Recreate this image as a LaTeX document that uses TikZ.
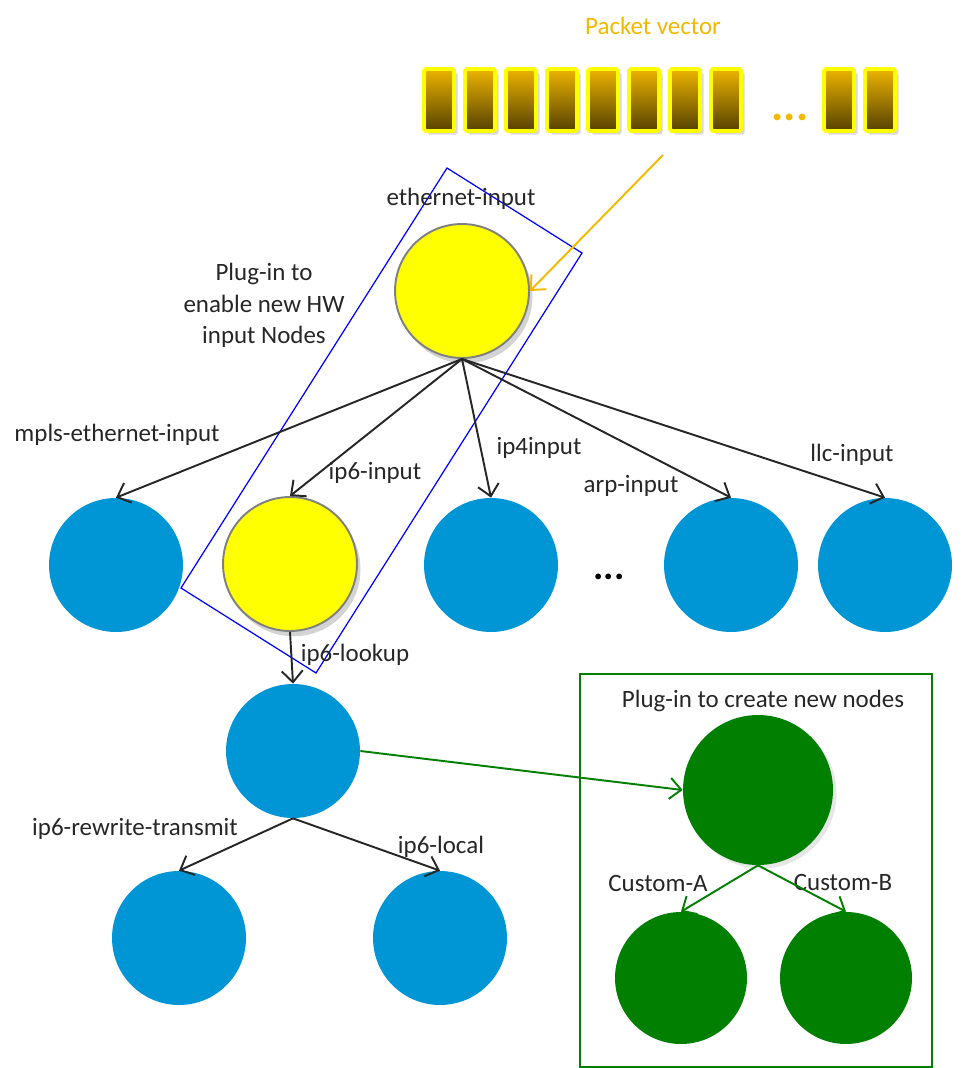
\documentclass[tikz,border=0pt]{standalone}
\usepackage{fontspec}
\setmainfont{Carlito}
\usetikzlibrary{arrows.meta,shadows,positioning}

\definecolor{vppblue}{HTML}{0096D6}
\definecolor{vppgreen}{HTML}{007F00}
\definecolor{vppyellow}{HTML}{FFFF00}
\definecolor{vppgold}{HTML}{F5B800}
\definecolor{vpptext}{HTML}{262626}
\definecolor{pkttop}{HTML}{EDB400}
\definecolor{pktbot}{HTML}{554000}

\tikzset{
  gnode/.style={circle,inner sep=0pt,minimum size=2.68cm},
  bluenode/.style={gnode,fill=vppblue},
  yellownode/.style={gnode,fill=vppyellow,draw=gray,line width=1.1pt,
    drop shadow={shadow xshift=2pt,shadow yshift=-3pt,opacity=0.35}},
  greennode/.style={gnode,fill=vppgreen},
  pkt/.style={rectangle,inner sep=0pt,minimum width=0.6cm,minimum height=1.24cm,
    top color=pkttop,bottom color=pktbot,draw=vppyellow,line width=2.2pt,
    rounded corners=1pt,drop shadow={shadow xshift=2pt,shadow yshift=-2pt,opacity=0.3}},
  lbl/.style={text=vpptext,font=\fontsize{14.2}{18}\selectfont,inner sep=0pt,yshift=-2pt},
  edge/.style={-{Straight Barb[length=6.5pt,width=12pt]},line width=1.1pt,draw=vpptext},
  gedge/.style={edge,draw=vppgreen},
  oedge/.style={edge,draw=vppgold},
}

\begin{document}
\begin{tikzpicture}[x=0.02cm,y=-0.02cm]
    \useasboundingbox (0,0) rectangle (966,1068);
    % packet vector
    \node[lbl,text=vppgold] (pvtitle) at (653,22) {Packet vector};
    \foreach \i in {0,...,7}
        \node[pkt] (pkt\i) at ({439+41*\i},100) {};
    \node[pkt] (pkt8) at (839,100) {};
    \node[pkt] (pkt9) at (880,100) {};
    \node[text=vppgold,font=\fontsize{26}{26}\selectfont\bfseries] (pvdots) at (790,117) {...};
    % nodes
    \node[yellownode] (eth) at (462,291) {};
    \node[bluenode] (mpls) at (116,565) {};
    \node[yellownode] (ip6in) at (290,564) {};
    \node[bluenode] (ip4) at (491,565) {};
    \node[bluenode] (arp) at (731,565) {};
    \node[bluenode] (llc) at (885,565) {};
    \node[font=\fontsize{22}{22}\selectfont\bfseries] (rowdots) at (609,577) {...};
    \node[bluenode] (lookup) at (293,751) {};
    \node[bluenode] (rewrite) at (179,938) {};
    \node[bluenode] (local) at (440,938) {};
    \node[greennode,minimum size=3cm,drop shadow={shadow xshift=2pt,shadow yshift=-2pt,opacity=0.2}] (custom) at (758,790) {};
    \node[greennode,minimum size=2.64cm] (cusa) at (681,978) {};
    \node[greennode,minimum size=2.64cm] (cusb) at (846,978) {};
    % plug-in frames
    \draw[blue,line width=0.7pt](447,168)--(582,253)--(316,673)--(181,588)--cycle;
    \draw[vppgreen,line width=0.7pt](580,674)rectangle(932,1067);
    % labels
    \node[lbl] (ethlbl) at (461,195) {ethernet-input};
    \node[lbl,align=center] (hwlbl) at (264,302) {Plug-in to\\enable new HW\\input Nodes};
    \node[lbl] (mplslbl) at (117,431) {mpls-ethernet-input};
    \node[lbl] (ip6inlbl) at (375,469) {ip6-input};
    \node[lbl] (ip4lbl) at (539,444) {ip4input};
    \node[lbl] (arplbl) at (631,482) {arp-input};
    \node[lbl] (llclbl) at (852,451) {llc-input};
    \node[lbl] (lookuplbl) at (355,651) {ip6-lookup};
    \node[lbl] (rewritelbl) at (135,825) {ip6-rewrite-transmit};
    \node[lbl] (locallbl) at (441,843) {ip6-local};
    \node[lbl] (customlbl) at (763,697) {Plug-in to create new nodes};
    \node[lbl] (cusalbl) at (658,880) {Custom-A};
    \node[lbl] (cusblbl) at (843,879) {Custom-B};
    % connectors
    \coordinate (pvtail) at (663,155);
    \draw[oedge](pvtail)--(eth.east);
    \draw[edge](eth.south)--(mpls.north);
    \draw[edge](eth.south)--(ip6in.north);
    \draw[edge](eth.south)--(ip4.north);
    \draw[edge](eth.south)--(arp.north);
    \draw[edge](eth.south)--(llc.north);
    \draw[edge](ip6in.south)--(lookup.north);
    \draw[edge](lookup.south)--(rewrite.north);
    \draw[edge](lookup.south)--(local.north);
    \draw[gedge](lookup.east)--(custom.west);
    \draw[gedge](custom.south)--(cusa.north);
    \draw[gedge](custom.south)--(cusb.north);
\end{tikzpicture}
\end{document}
